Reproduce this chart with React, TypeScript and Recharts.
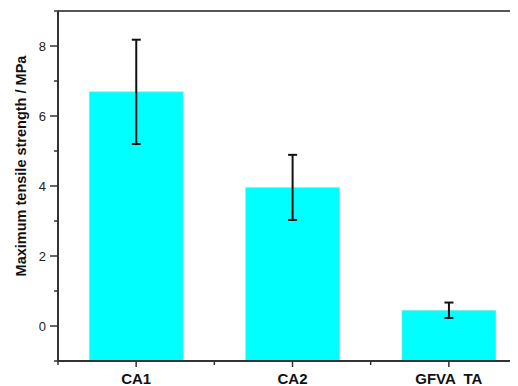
import React from "react";
import {
  BarChart,
  Bar,
  XAxis,
  YAxis,
  ErrorBar,
  ReferenceLine,
} from "recharts";

// Sample names, mean strengths and their standard deviations
const samples = ["CA1", "CA2", "GFVA  TA"];
const strengthMPa = [6.69, 3.96, 0.45];
const strengthErr = [1.49, 0.93, 0.22];

// Value axis: labelled ticks on even numbers, minor ticks in between
const yTicks = [-1, 0, 1, 2, 3, 4, 5, 6, 7, 8, 9];
const yDomain: [number, number] = [-1, 9];

// Bars rise from the bottom of the value axis up to the mean
const data = samples.map((name, i) => ({
  name,
  value: [yDomain[0], strengthMPa[i]],
  err: strengthErr[i],
}));

const CHART_W = 519;
const CHART_H = 378;
const Y_AXIS_W = 50;
const MARGIN = { top: 3, right: 0, bottom: 0, left: 0 };
const BAND = (CHART_W - Y_AXIS_W - MARGIN.right - MARGIN.left) / samples.length;
const AXIS_COLOR = "#333333";
const FONT = "Arial, 'Liberation Sans', sans-serif";

const Y_TICK_SIZE = 8;
const Y_TICK_MARGIN = 4;

function YTick(props: any) {
  const { x, y, payload } = props;
  const axisX = x + Y_TICK_SIZE + Y_TICK_MARGIN;
  const v = payload.value as number;
  const major = v % 2 === 0;
  return (
    <g>
      <line
        x1={axisX - (major ? 8 : 4)}
        x2={axisX}
        y1={y}
        y2={y}
        stroke={AXIS_COLOR}
        strokeWidth={1.5}
      />
      {major && (
        <text
          x={x}
          y={y}
          dy={4.5}
          textAnchor="end"
          fontSize={13}
          fontFamily={FONT}
          fill="#222"
        >
          {v}
        </text>
      )}
    </g>
  );
}

function XTick(props: any) {
  const { x, y, payload, index } = props;
  const axisY = y - 8;
  const half = BAND / 2;
  return (
    <g>
      <line x1={x} x2={x} y1={axisY} y2={axisY + 6} stroke={AXIS_COLOR} strokeWidth={1.5} />
      {index === 0 && (
        <line
          x1={x - half}
          x2={x - half}
          y1={axisY}
          y2={axisY + 4}
          stroke={AXIS_COLOR}
          strokeWidth={1.5}
        />
      )}
      <line
        x1={x + half}
        x2={x + half}
        y1={axisY}
        y2={axisY + 4}
        stroke={AXIS_COLOR}
        strokeWidth={1.5}
      />
      <text
        x={x}
        y={axisY + 23}
        textAnchor="middle"
        fontSize={15}
        fontWeight="bold"
        fontFamily={FONT}
        fill="#111"
        style={{ whiteSpace: "pre" }}
      >
        {payload.value}
      </text>
    </g>
  );
}

function YLabel(props: any) {
  const { viewBox } = props;
  const cx = viewBox.x + 13;
  const cy = 158;
  return (
    <text
      x={cx}
      y={cy}
      transform={`rotate(-90, ${cx}, ${cy})`}
      textAnchor="middle"
      dominantBaseline="central"
      fontSize={14.5}
      fontWeight="bold"
      fontFamily={FONT}
      fill="#111"
    >
      Maximum tensile strength / MPa
    </text>
  );
}

export default function App() {
  return (
    <div style={{ width: 510, height: CHART_H, overflow: "hidden" }}>
      <BarChart
        width={CHART_W}
        height={CHART_H}
        data={data}
        margin={MARGIN}
        barCategoryGap="20%"
      >
        <XAxis
          dataKey="name"
          height={CHART_H - 353 - MARGIN.bottom}
          tickLine={false}
          tickSize={6}
          tickMargin={2}
          axisLine={{ stroke: AXIS_COLOR, strokeWidth: 2 }}
          tick={<XTick />}
          interval={0}
        />
        <YAxis
          type="number"
          domain={yDomain}
          ticks={yTicks}
          width={Y_AXIS_W}
          tickLine={false}
          tickSize={Y_TICK_SIZE}
          tickMargin={Y_TICK_MARGIN}
          axisLine={{ stroke: AXIS_COLOR, strokeWidth: 2 }}
          tick={<YTick />}
          interval={0}
          allowDataOverflow
          label={<YLabel />}
        />
        <ReferenceLine y={9} stroke="#555" strokeWidth={2} ifOverflow="extendDomain" />
        <Bar
          dataKey="value"
          fill="#00FFFF"
          stroke="#b8d8d8"
          strokeWidth={0.6}
          isAnimationActive={false}
        >
          <ErrorBar dataKey="err" width={4.5} stroke="#111" strokeWidth={2} direction="y" />
        </Bar>
      </BarChart>
    </div>
  );
}
